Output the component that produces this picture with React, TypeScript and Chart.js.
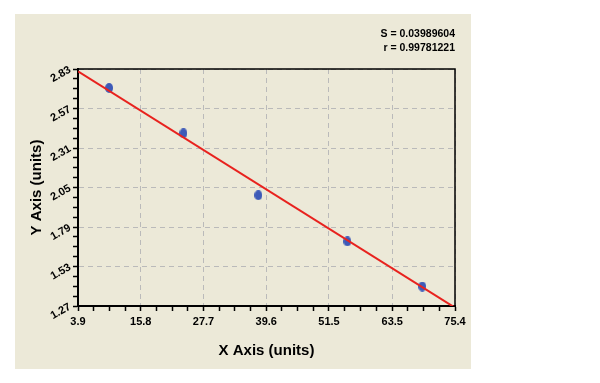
import React, { useEffect, useRef } from 'react';
import { Chart, registerables } from 'chart.js';

Chart.register(...registerables);

const xTickLabels = ['3.9', '15.8', '27.7', '39.6', '51.5', '63.5', '75.4'];
const yTickLabels = ['1.27', '1.53', '1.79', '2.05', '2.31', '2.57', '2.83'];
const sampleX = [9.8, 23.9, 38.1, 55.0, 69.2];
const sampleY = [2.705, 2.407, 1.999, 1.695, 1.398];
const fitX = [3.9, 75.4];
const fitY = [2.814, 1.259];
const statLines = ['S = 0.03989604', 'r = 0.99781221'];
const xTitle = 'X Axis (units)';
const yTitle = 'Y Axis (units)';
const MINOR = 4;

const FONT = '"Liberation Sans", Arial, sans-serif';

function withMinor(labels: string[]) {
  const majors = labels.map(Number);
  const out: { value: number }[] = [];
  for (let i = 0; i < majors.length; i++) {
    out.push({ value: majors[i] });
    if (i < majors.length - 1) {
      for (let k = 1; k < MINOR; k++) {
        out.push({ value: majors[i] + ((majors[i + 1] - majors[i]) * k) / MINOR });
      }
    }
  }
  return out;
}

function makeDot() {
  const c = document.createElement('canvas');
  c.width = 8;
  c.height = 10;
  const g = c.getContext('2d')!;
  g.fillStyle = '#3D5AB8';
  g.beginPath();
  g.ellipse(4, 5, 4, 5, 0, 0, Math.PI * 2);
  g.fill();
  return c;
}

const framePlugin = {
  id: 'frameAndStats',
  afterDraw(chart: any) {
    const { ctx, chartArea } = chart;
    ctx.save();
    ctx.strokeStyle = '#000';
    ctx.lineWidth = 1.5;
    ctx.beginPath();
    ctx.moveTo(chartArea.left, chartArea.top);
    ctx.lineTo(chartArea.right, chartArea.top);
    ctx.lineTo(chartArea.right, chartArea.bottom);
    ctx.stroke();
    ctx.fillStyle = '#000';
    ctx.font = 'bold 10.5px ' + FONT;
    ctx.textAlign = 'right';
    ctx.textBaseline = 'middle';
    statLines.forEach((t, i) => {
      ctx.fillText(t, chartArea.right, chartArea.top - 35 + i * 14);
    });
    ctx.restore();
  },
};

export default function App() {
  const ref = useRef<HTMLCanvasElement>(null);
  useEffect(() => {
    const dot = makeDot();
    const gridColor = (c: any) => (c.index % MINOR === 0 ? '#BABABA' : 'rgba(0,0,0,0)');
    const chart = new Chart(ref.current!, {
      type: 'scatter',
      data: {
        datasets: [
          {
            label: 'fit',
            data: fitX.map((x, i) => ({ x, y: fitY[i] })),
            showLine: true,
            borderColor: '#E8221E',
            borderWidth: 2,
            pointRadius: 0,
            order: 0,
          },
          {
            label: 'samples',
            data: sampleX.map((x, i) => ({ x, y: sampleY[i] })),
            pointStyle: dot as any,
            pointRadius: 5,
            backgroundColor: '#3D5AB8',
            borderColor: '#3D5AB8',
            order: 1,
          },
        ],
      },
      options: {
        animation: false,
        responsive: false,
        layout: { padding: { top: 55, right: 16, left: 0, bottom: 0 } },
        plugins: { legend: { display: false }, tooltip: { enabled: false } },
        scales: {
          x: {
            type: 'linear',
            min: Number(xTickLabels[0]),
            max: Number(xTickLabels[xTickLabels.length - 1]),
            afterBuildTicks: (s: any) => {
              s.ticks = withMinor(xTickLabels);
            },
            afterFit: (s: any) => {
              s.height = 63;
            },
            ticks: {
              autoSkip: false,
              maxRotation: 0,
              minRotation: 0,
              padding: 4,
              color: '#000',
              font: { family: FONT, size: 11, weight: 'bold' },
              callback: (_v: any, i: number) => (i % MINOR === 0 ? xTickLabels[i / MINOR] : ''),
            },
            grid: {
              color: gridColor,
              lineWidth: 1,
              tickColor: '#000',
              tickLength: 5,
              tickWidth: 1.5,
            },
            border: { display: true, color: '#000', width: 2, dash: [5, 4] },
            title: {
              display: true,
              text: xTitle,
              color: '#000',
              font: { family: FONT, size: 15, weight: 'bold' },
              padding: { top: 0, bottom: 9 },
            },
          },
          y: {
            type: 'linear',
            min: Number(yTickLabels[0]),
            max: Number(yTickLabels[yTickLabels.length - 1]),
            afterBuildTicks: (s: any) => {
              s.ticks = withMinor(yTickLabels);
            },
            afterFit: (s: any) => {
              s.width = 63;
            },
            ticks: {
              autoSkip: false,
              minRotation: 30,
              maxRotation: 30,
              padding: 3,
              color: '#000',
              font: { family: FONT, size: 11, weight: 'bold' },
              callback: (_v: any, i: number) => (i % MINOR === 0 ? yTickLabels[i / MINOR] : ''),
            },
            grid: {
              color: gridColor,
              lineWidth: 1,
              tickColor: '#000',
              tickLength: 5,
              tickWidth: 1.5,
            },
            border: { display: true, color: '#000', width: 2, dash: [5, 4] },
            title: {
              display: true,
              text: yTitle,
              color: '#000',
              font: { family: FONT, size: 15, weight: 'bold' },
              padding: { top: 13, bottom: 0 },
            },
          },
        },
      } as any,
      plugins: [framePlugin],
    });
    return () => chart.destroy();
  }, []);
  return (
    <div
      style={{
        position: 'absolute',
        left: 15,
        top: 14,
        width: 456,
        height: 355,
        background: '#ECE9D8',
      }}
    >
      <canvas ref={ref} width={456} height={355} style={{ display: 'block' }} />
    </div>
  );
}
